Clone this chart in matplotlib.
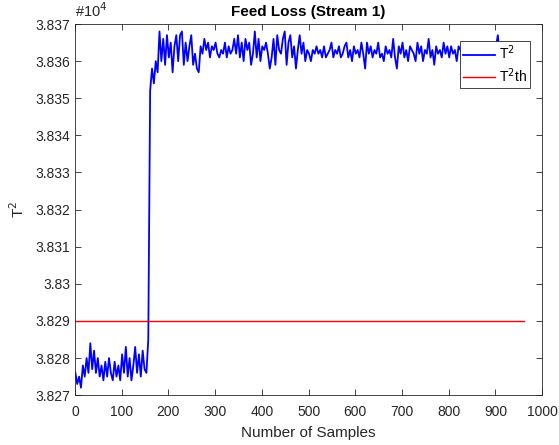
import numpy as np
import matplotlib
matplotlib.use('Agg')
import matplotlib.pyplot as plt
from matplotlib.ticker import FuncFormatter

# T^2 statistic (x 1e4), every 4th sample starting at sample 1
t2_normal = [3.8276, 3.8273, 3.8275, 3.8272, 3.8278, 3.8275, 3.8280, 3.8276, 3.8284, 3.8277,
             3.8282, 3.8276, 3.8280, 3.8275, 3.8278, 3.8274, 3.8279, 3.8275, 3.8280, 3.8276,
             3.8274, 3.8279, 3.8275, 3.8278, 3.8274, 3.8281, 3.8276, 3.8283, 3.8275, 3.8280,
             3.8274, 3.8278, 3.8283, 3.8276, 3.8281, 3.8275, 3.8282, 3.8277, 3.8276, 3.8285]

t2_fault = [3.8352, 3.8358, 3.8354, 3.8360, 3.8357, 3.8368, 3.8360, 3.8366, 3.8359, 3.8367,
            3.8361, 3.8365, 3.8357, 3.8364, 3.8367, 3.8360, 3.8367, 3.8368, 3.8359, 3.8365,
            3.8360, 3.8364, 3.8367, 3.8359, 3.8362,
            3.8358, 3.8357, 3.8364, 3.8362, 3.8366, 3.8363, 3.8365, 3.8361, 3.8364, 3.8363,
            3.8365, 3.8362, 3.8361, 3.8363, 3.8362, 3.8365, 3.8361, 3.8364, 3.8362, 3.8363,
            3.8366, 3.8362, 3.8367, 3.8361, 3.8365,
            3.8360, 3.8366, 3.8363, 3.8365, 3.8359, 3.8362, 3.8368, 3.8361, 3.8366, 3.8360,
            3.8364, 3.8363, 3.8365, 3.8362, 3.8358, 3.8361, 3.8366, 3.8359, 3.8367, 3.8363,
            3.8362, 3.8366, 3.8368, 3.8359, 3.8365,
            3.8367, 3.8361, 3.8364, 3.8358, 3.8363, 3.8367, 3.8362, 3.8365, 3.8360, 3.8363,
            3.8362, 3.8360, 3.8363, 3.8362, 3.8364, 3.8362, 3.8363, 3.8361, 3.8364, 3.8361,
            3.8362, 3.8363, 3.8365, 3.8361, 3.8363,
            3.8362, 3.8364, 3.8361, 3.8362, 3.8364, 3.8365, 3.8361, 3.8363, 3.8360, 3.8364,
            3.8362, 3.8363, 3.8361, 3.8365, 3.8362, 3.8358, 3.8365, 3.8362, 3.8364, 3.8361,
            3.8363, 3.8362, 3.8365, 3.8361, 3.8362,
            3.8360, 3.8364, 3.8362, 3.8363, 3.8361, 3.8366, 3.8361, 3.8358, 3.8364, 3.8362,
            3.8365, 3.8361, 3.8363, 3.8360, 3.8364, 3.8363, 3.8362, 3.8360, 3.8365, 3.8362,
            3.8364, 3.8360, 3.8363, 3.8362, 3.8366,
            3.8361, 3.8363, 3.8359, 3.8364, 3.8362, 3.8363, 3.8361, 3.8365, 3.8362, 3.8364,
            3.8361, 3.8364, 3.8362, 3.8363, 3.8360, 3.8364, 3.8363, 3.8362, 3.8361, 3.8364,
            3.8362, 3.8363, 3.8361, 3.8365, 3.8362,
            3.8363, 3.8361, 3.8364, 3.8362, 3.8363, 3.8361, 3.8364, 3.8362, 3.8363, 3.8361,
            3.8364, 3.8367, 3.8362, 3.8361, 3.8364, 3.8362, 3.8363, 3.8361, 3.8364, 3.8362,
            3.8363, 3.8361, 3.8364, 3.8362, 3.8363]

t2 = np.array(t2_normal + t2_fault)
samples = np.arange(1, 4 * len(t2), 4)
t2_threshold = 3.829
n_samples = 960

plt.rcParams['font.family'] = ['Liberation Sans', 'DejaVu Sans']

fig = plt.figure(figsize=(5.59, 4.45), dpi=100)
ax = fig.add_axes([0.134, 0.112, 0.836, 0.834])

ax.plot(samples, t2, color='#0000ff', lw=1.3, label='T$^2$')
ax.plot([0, n_samples], [t2_threshold, t2_threshold], color='#ff0000', lw=1.0, label='T$^2$th')

ax.set_xlim(0, 1000)
ax.set_ylim(3.827, 3.837)
ax.set_xticks(np.arange(0, 1001, 100))
ax.set_yticks(np.arange(3.827, 3.8371, 0.001))
ax.yaxis.set_major_formatter(FuncFormatter(lambda v, p: '%g' % round(v, 3)))
ax.tick_params(direction='in', top=True, right=True, labelsize=10, length=4, width=0.6,
               colors='#262626')
ax.tick_params(axis='x', pad=7)
for s in ax.spines.values():
    s.set_linewidth(0.6)
    s.set_color('#262626')

ax.set_title('Feed Loss (Stream 1)', fontsize=11, fontweight='bold', pad=6)
ax.set_xlabel('Number of Samples', fontsize=11, color='#262626', labelpad=5)
ax.set_ylabel('T$^2$', fontsize=11, color='#262626', labelpad=6)
ax.text(0, 1.012, '#10$^4$', transform=ax.transAxes, fontsize=10.5, ha='left', va='bottom',
        color='#262626')

leg = ax.legend(loc='upper right', bbox_to_anchor=(0.974, 0.954), borderaxespad=0,
                fontsize=10, fancybox=False, framealpha=1, edgecolor='#262626',
                handlelength=2.3, handletextpad=0.3, borderpad=0.2, labelspacing=0.3)
leg.get_frame().set_linewidth(0.6)

fig.savefig('out.png', dpi=100)
